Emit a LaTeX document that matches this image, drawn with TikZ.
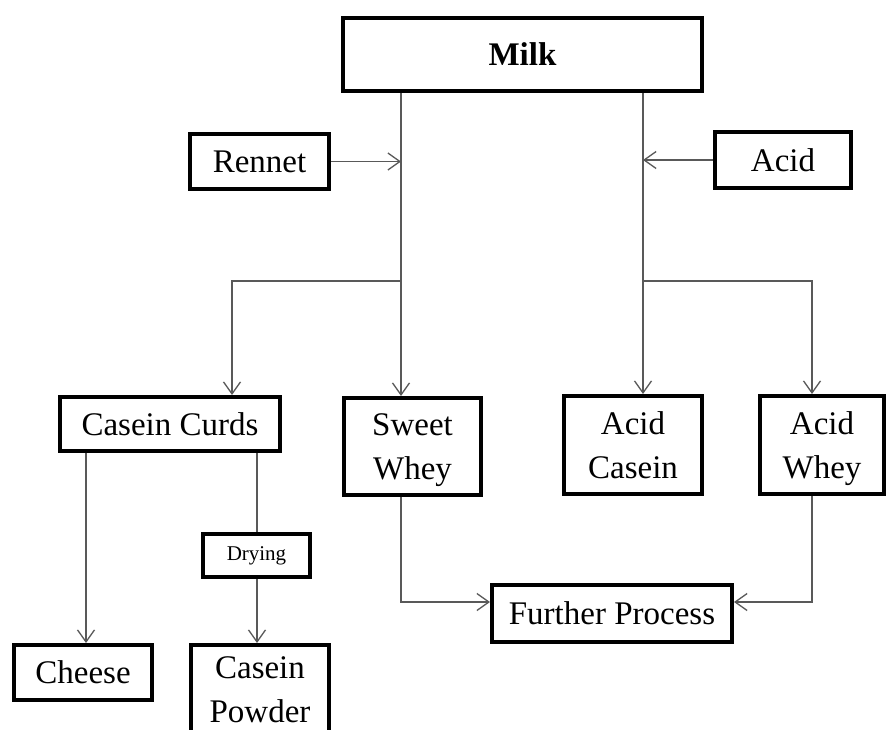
\documentclass[tikz,border=0pt]{standalone}
\usepackage{fontspec}
\setmainfont{Liberation Serif}
\usetikzlibrary{arrows.meta}
\tikzset{
  box/.style={draw=black, line width=4pt, fill=white, inner sep=0pt, align=center,
    font=\fontsize{33}{44}\selectfont},
  conn/.style={draw=black!65, line width=1.3pt},
  arr/.style={conn, -{Straight Barb[length=12pt,width=17pt,line width=1.3pt]}},
}
\begin{document}
\begin{tikzpicture}[x=1pt,y=1pt]
\clip (0,0) rectangle (888,-729);
\fill[white] (0,0) rectangle (888,-729);
% nodes
\node[box, minimum width=359pt, minimum height=73pt, font=\fontsize{33}{44}\selectfont\bfseries] (milk) at (522.5,-54.5) {Milk};
\node[box, minimum width=139pt, minimum height=55pt] (rennet) at (259.5,-161.5) {Rennet};
\node[box, minimum width=136pt, minimum height=56pt] (acid) at (783,-160) {Acid};
\node[box, minimum width=220pt, minimum height=54pt] (cc) at (170,-424) {Casein Curds};
\node[box, minimum width=137pt, minimum height=97pt, text depth=0pt] (sw) at (412.5,-446.5) {Sweet\\Whey};
\node[box, minimum width=138pt, minimum height=98pt] (ac) at (633,-445) {Acid\\Casein};
\node[box, minimum width=124pt, minimum height=98pt, text depth=0pt] (aw) at (822,-445) {Acid\\Whey};
\node[box, minimum width=240pt, minimum height=57pt] (fp) at (612,-613.5) {Further Process};
\node[box, minimum width=138pt, minimum height=55pt] (cheese) at (83,-672.5) {Cheese};
\node[box, minimum width=107pt, minimum height=43pt, font=\fontsize{21}{26}\selectfont] (dry) at (256.5,-555.5) {Drying};
\node[box, minimum width=138pt, minimum height=98pt, text depth=8pt] (cp) at (260,-694) {Casein\\Powder};
% junction coordinates
\coordinate (jl) at (401,-281);
\coordinate (jr) at (643,-281);
\coordinate (xcc) at (232,-281);
\coordinate (xaw) at (812,-281);
\coordinate (xch) at (86,-453);
\coordinate (xdr) at (257,-453);
\coordinate (yfp) at (0,-602);
% connectors
\draw[conn] (milk.south -| jl) -- (jl);
\draw[conn] (milk.south -| jr) -- (jr);
\draw[arr] (rennet.east) -- (rennet.east -| jl);
\draw[arr] (acid.west) -- (acid.west -| jr);
\draw[arr] (jl) -| (cc.north -| xcc);
\draw[arr] (jl) -- (sw.north -| jl);
\draw[arr] (jr) -- (ac.north -| jr);
\draw[arr] (jr) -| (aw.north -| xaw);
\draw[arr] (cc.south -| xch) -- (cheese.north -| xch);
\draw[conn] (cc.south -| xdr) -- (dry.north -| xdr);
\draw[arr] (dry.south -| xdr) -- (cp.north -| xdr);
\draw[arr] (sw.south -| jl) |- (fp.west |- yfp);
\draw[arr] (aw.south -| xaw) |- (fp.east |- yfp);
\end{tikzpicture}
\end{document}
